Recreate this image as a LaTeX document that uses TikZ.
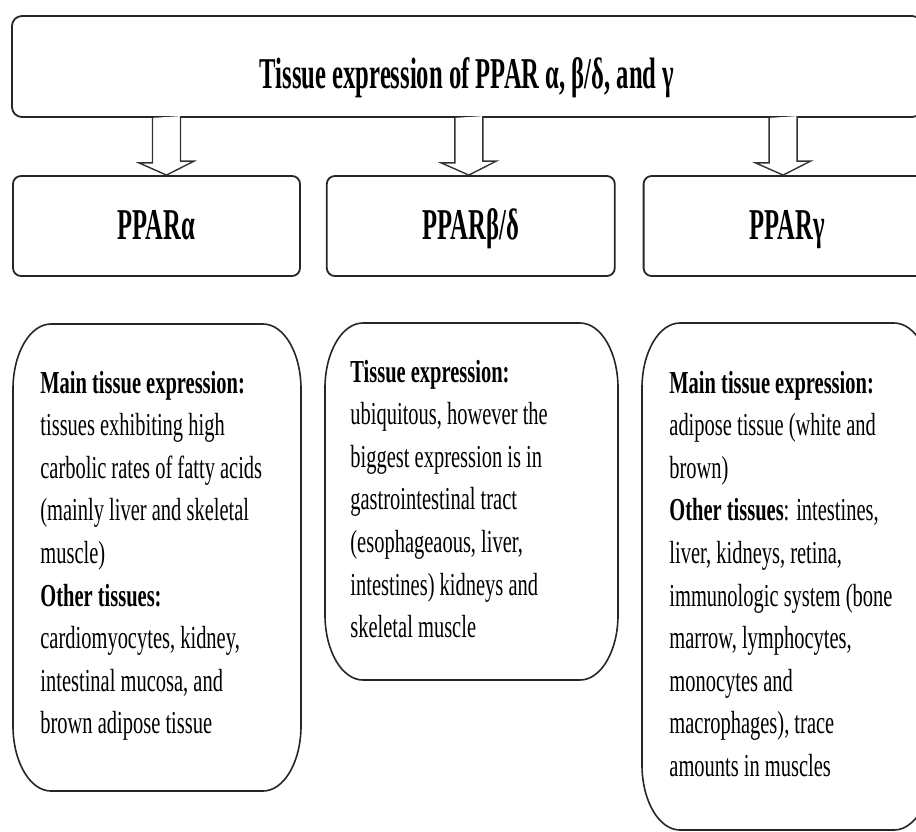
\documentclass[tikz,border=0pt]{standalone}
\usepackage{fontspec}
\setmainfont{Liberation Serif}[FakeStretch=0.64]
\newfontfamily\headfont{Liberation Serif}[FakeStretch=0.56]
\usetikzlibrary{positioning,calc}

\begin{document}
\begin{tikzpicture}[x=0.5pt, y=0.5pt]
    \tikzstyle{head} = [rectangle, draw=black!85, line width=0.9pt, rounded corners=5pt, inner sep=0pt,
                                      minimum height=50pt, text height=16pt, text depth=3pt,
                                      font=\headfont\fontsize{22}{26}\selectfont\bfseries]
    \tikzstyle{body} = [anchor=base west, align=flush left, text width=140pt, inner sep=0pt,
                                      font=\fontsize{16}{21.3}\selectfont]
    \tikzstyle{hollow} = [draw=black!80, line width=0.7pt, fill=white, line join=miter]
    \tikzstyle{frame} = [draw=black!85, line width=0.8pt]
  \useasboundingbox (0,0) rectangle (916,-831);
  \node[head, minimum width=455pt, minimum height=50.5pt, text height=21.5pt, text depth=0pt](title)
    at (467,-66.5){Tissue expression of PPAR α, β/δ, and γ};
  \node[head, minimum width=143.5pt, rounded corners=4pt](alpha) at (156.5,-226){PPARα};
  \node[head, minimum width=144pt, rounded corners=4pt, right=12.5pt of alpha](beta){PPARβ/δ};
  \node[head, minimum width=143.5pt, rounded corners=4pt, right=13.5pt of beta](gamma){PPARγ};
  % hollow block arrows from the title box
  \foreach \n/\dx in {alpha/10, beta/-2, gamma/-4} {
    \coordinate (tip) at ($(\n.north)+(\dx,0)$);
    \draw[hollow] ($(title.south -| tip)+(-14,0)$) -- ++(0,-45) -- ++(-13.5,0) -- (tip)
       -- ++(27.5,14) -- ++(-13.5,0) -- ++(0,45);
  }
  % oval frames of the tissue boxes
  \foreach \xa/\ya/\xb/\yb in {13/324/301/791, 325/323/618/680, 642/323/932/830}
    \draw[frame] (\xa+38,-\ya) -- (\xb-38,-\ya) arc[start angle=90, end angle=0, x radius=38, y radius=65]
       -- (\xb,-\yb+65) arc[start angle=0, end angle=-90, x radius=38, y radius=65]
       -- (\xa+38,-\yb) arc[start angle=-90, end angle=-180, x radius=38, y radius=65]
       -- (\xa,-\ya-65) arc[start angle=180, end angle=90, x radius=38, y radius=65] -- cycle;
  \node[body](alphaText) at (40,-393){\textbf{Main tissue expression:}\\ tissues exhibiting high\\
    carbolic rates of fatty acids\\ (mainly liver and skeletal\\ muscle)\\ \textbf{Other tissues:}\\
    cardiomyocytes, kidney,\\ intestinal mucosa, and\\ brown adipose tissue};
  \node[body](betaText) at (350,-382){\textbf{Tissue expression:}\\ ubiquitous, however the\\
    biggest expression is in\\ gastrointestinal tract\\ (esophageaous, liver,\\ intestines) kidneys and\\
    skeletal muscle};
  \node[body](gammaText) at (669,-393){\textbf{Main tissue expression:}\\ adipose tissue (white and\\
    brown)\\ \textbf{Other tissues}: intestines,\\ liver, kidneys, retina,\\ immunologic system (bone\\
    marrow, lymphocytes,\\ monocytes and\\ macrophages), trace\\ amounts in muscles};
  \end{tikzpicture}
\end{document}
